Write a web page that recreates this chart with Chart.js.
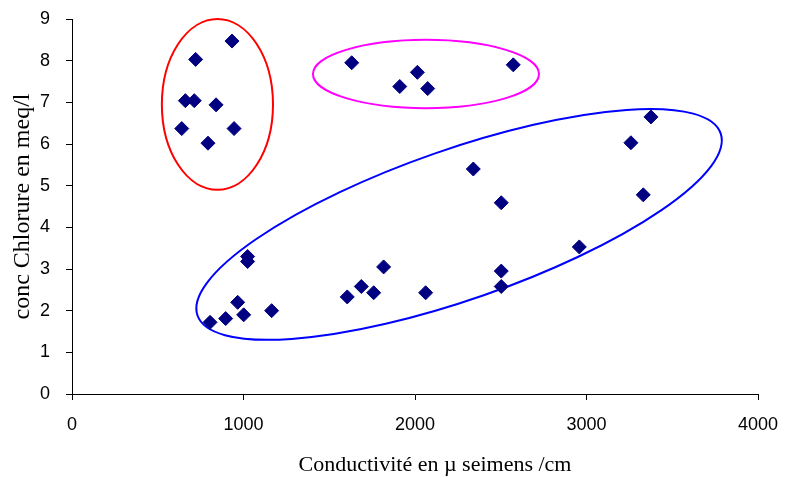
<!DOCTYPE html>
<html>
<head>
<meta charset="utf-8">
<script src="https://cdn.jsdelivr.net/npm/chart.js@4/dist/chart.umd.min.js"></script>
<style>
  html, body { margin: 0; padding: 0; background: #fff; }
  #wrap { width: 785px; height: 478px; }
</style>
</head>
<body>
<div id="wrap"><canvas id="c" width="785" height="478"></canvas></div>
<script>
// Conductivité (µS/cm) and chlorure (meq/l) per sample
const conductivite = [
  933, 721, 661, 713, 840, 640, 945, 793,
  1631, 2014, 1911, 2074, 2573,
  1024, 1024, 966, 805, 896, 1001, 1164, 1605, 1687, 1759, 1817,
  2340, 2503, 2503, 2503, 2062, 2958, 3259, 3376, 3331
];
const chlorure = [
  8.47, 8.03, 7.04, 7.04, 6.94, 6.37, 6.37, 6.02,
  7.95, 7.72, 7.38, 7.33, 7.90,
  3.30, 3.18, 2.20, 1.72, 1.81, 1.90, 2.00, 2.33, 2.58, 2.43, 3.05,
  5.40, 4.59, 2.95, 2.58, 2.43, 3.53, 6.03, 6.65, 4.78
];

const xTicks = [0, 1000, 2000, 3000, 4000];
const yTicks = [0, 1, 2, 3, 4, 5, 6, 7, 8, 9];

// Group outlines: centre in data units, semi-axes in data units (x, y), tilt in degrees
const groupCentreX = [848, 2064, 2257];
const groupCentreY = [6.95, 7.68, 4.07];
const groupRadiusX = [324, 659, 1615];
const groupRadiusY = [2.05, 0.82, 1.80];
const groupTilt = [0, 0, -19.2];
const groupColour = ['#FF0000', '#FF00FF', '#0000FF'];

const points = conductivite.map((x, i) => ({ x: x, y: chlorure[i] }));

const groupOutlines = {
  id: 'groupOutlines',
  beforeDatasetsDraw(chart) {
    const { ctx, scales: { x, y } } = chart;
    const pxPerX = Math.abs(x.getPixelForValue(1000) - x.getPixelForValue(0)) / 1000;
    const pxPerY = Math.abs(y.getPixelForValue(1) - y.getPixelForValue(0));
    ctx.save();
    groupCentreX.forEach((cx, i) => {
      ctx.beginPath();
      ctx.ellipse(
        x.getPixelForValue(cx), y.getPixelForValue(groupCentreY[i]),
        groupRadiusX[i] * pxPerX, groupRadiusY[i] * pxPerY,
        groupTilt[i] * Math.PI / 180, 0, Math.PI * 2
      );
      ctx.lineWidth = 2;
      ctx.strokeStyle = groupColour[i];
      ctx.stroke();
    });
    ctx.restore();
  }
};

// The horizontal axis title sits a little right of the plot centre
const shiftedXTitle = {
  id: 'shiftedXTitle',
  beforeDraw(chart) {
    const sc = chart.scales.x;
    if (sc._shiftedTitle) return;
    const orig = sc.drawTitle.bind(sc);
    sc.drawTitle = function () {
      const ctx = this.ctx;
      ctx.save();
      ctx.translate(20, 0);
      orig();
      ctx.restore();
    };
    sc._shiftedTitle = true;
  }
};

new Chart(document.getElementById('c'), {
  type: 'scatter',
  data: {
    datasets: [{
      data: points,
      pointStyle: 'rectRot',
      pointRadius: 7,
      pointHoverRadius: 7,
      backgroundColor: '#000080',
      borderColor: '#000080',
      borderWidth: 1
    }]
  },
  options: {
    responsive: false,
    animation: false,
    events: [],
    layout: { padding: { top: 19, right: 27, left: 0, bottom: 0 } },
    plugins: { legend: { display: false }, tooltip: { enabled: false } },
    scales: {
      x: {
        type: 'linear',
        min: 0, max: 4000,
        afterBuildTicks(s) { s.ticks = xTicks.map(v => ({ value: v })); },
        afterFit(s) { s.height = 84; s.paddingLeft = 0; s.paddingRight = 0; },
        grid: { drawOnChartArea: false, tickLength: 6, color: '#000' },
        border: { color: '#000', width: 1 },
        ticks: {
          color: '#000', padding: 14, maxRotation: 0,
          font: { family: 'Liberation Sans, Arial, sans-serif', size: 18 },
          callback: v => String(v)
        },
        title: {
          display: true, text: 'Conductivité en µ seimens /cm', color: '#000',
          font: { family: 'Liberation Serif, Times New Roman, serif', size: 22 },
          padding: { top: 0, bottom: 0 }
        }
      },
      y: {
        type: 'linear',
        min: 0, max: 9,
        afterBuildTicks(s) { s.ticks = yTicks.map(v => ({ value: v })); },
        afterFit(s) { s.width = 72; s.paddingTop = 0; s.paddingBottom = 0; },
        grid: { drawOnChartArea: false, tickLength: 6, color: '#000' },
        border: { color: '#000', width: 1 },
        ticks: {
          color: '#000', padding: 16,
          font: { family: 'Liberation Sans, Arial, sans-serif', size: 18 },
          callback: v => String(v)
        },
        title: {
          display: true, text: 'conc Chlorure en meq/l', color: '#000',
          font: { family: 'Liberation Serif, Times New Roman, serif', size: 24 },
          padding: { top: 8, bottom: 0 }
        }
      }
    }
  },
  plugins: [groupOutlines, shiftedXTitle]
});
</script>
</body>
</html>
